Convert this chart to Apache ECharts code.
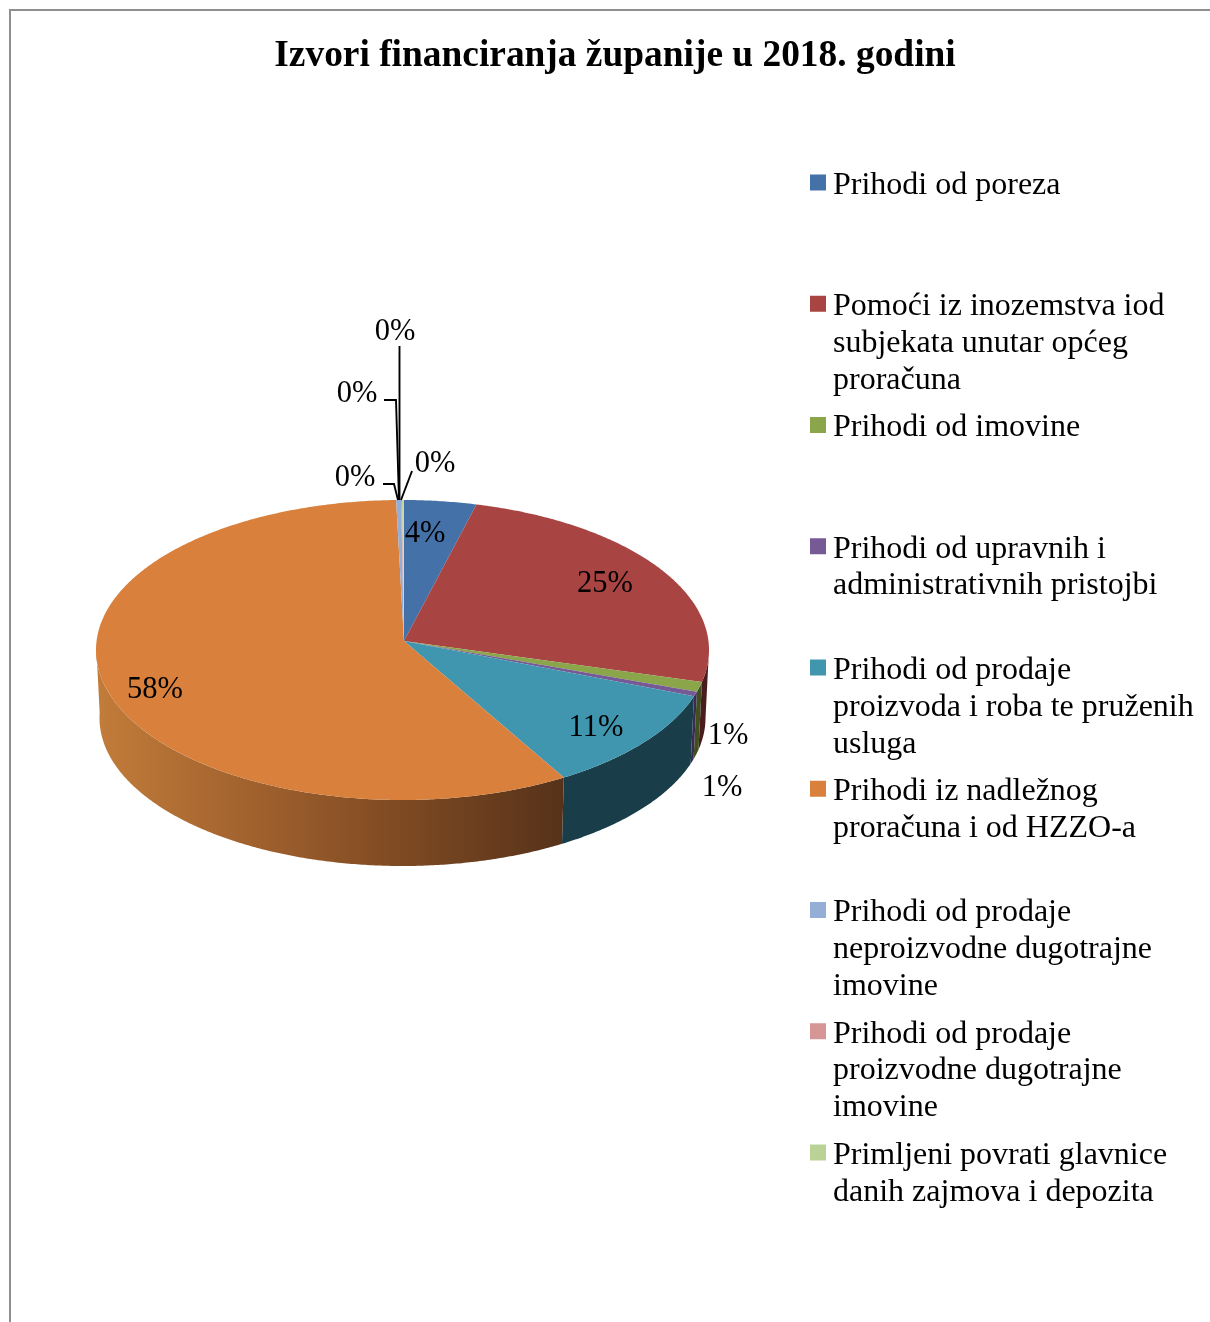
<!DOCTYPE html>
<html>
<head>
<meta charset="utf-8">
<style>html,body{margin:0;padding:0;background:#fff}#c{width:1210px;height:1322px}</style>
<script src="https://cdn.jsdelivr.net/npm/echarts@6/dist/echarts.min.js"></script>
</head>
<body>
<div id="c"></div>
<script>
const chartTitle = 'Izvori financiranja županije u 2018. godini';
const categories = [
  'Prihodi od poreza',
  'Pomoći iz inozemstva iod\nsubjekata unutar općeg\nproračuna',
  'Prihodi od imovine',
  'Prihodi od upravnih i\nadministrativnih pristojbi',
  'Prihodi od prodaje\nproizvoda i roba te pruženih\nusluga',
  'Prihodi iz nadležnog\nproračuna i od HZZO-a',
  'Prihodi od prodaje\nneproizvodne dugotrajne\nimovine',
  'Prihodi od prodaje\nproizvodne dugotrajne\nimovine',
  'Primljeni povrati glavnice\ndanih zajmova i depozita',
  ''
];
const values = [3.8, 24.55, 1.05, 0.52, 11.18, 58.49, 0.26, 0.05, 0.05, 0.05];
const topColors = ['#4471a7','#a84442','#8aa54a','#755a96','#3f96ae','#d9813c','#94aed6','#d69695','#bbd297','#a7d5e3'];
const wallColors = ['#284265','#4a1c1c','#3f4f22','#3a2c50','#1a3d4a',null,'#59698a','#805a5a','#70805a','#648090'];

const FONT = '"Liberation Serif","Times New Roman",serif';
const LABEL_SIZE = 30.5, LEGEND_SIZE = 32, LINE_H = 36.8;
// Projection of the 3D disc
const APEX = [404, 641];
const TOP = {cx: 402.5, cy: 650, rx: 306.5, ry: 150};
const BOT = {cx: 402.5, cy: 718, rx: 303, ry: 148};
const START_DEG = 0.28;
// Label layout (centres) and leader lines, by slice
const labelAt = [[425,534],[605,584],[728,736],[722,788],[596,728],[155,690],[355,478],[357,394],[395,332],[435,464]];
const leaders = {
  6: [[383,484],[394,484],[398,500]],
  7: [[384,400],[396,400],[399,500]],
  8: [[399.5,346],[399.5,500]],
  9: [[412,471],[401,500]]
};

const total = values.reduce((a, b) => a + b, 0);
function pt(e, deg) {
  const t = deg * Math.PI / 180;
  return [e.cx + e.rx * Math.sin(t), e.cy - e.ry * Math.cos(t)];
}
function sliceRange(i) {
  const before = values.slice(0, i).reduce((a, b) => a + b, 0);
  return [START_DEG + before / total * 360, START_DEG + (before + values[i]) / total * 360];
}
function arc(e, a, b) {
  const n = Math.max(2, Math.ceil(Math.abs(b - a) * 2));
  const out = [];
  for (let k = 0; k <= n; k++) out.push(pt(e, a + (b - a) * k / n));
  return out;
}
const orangeWall = new echarts.graphic.LinearGradient(96, 0, 564, 0, [
  {offset: 0, color: '#c27c3a'},
  {offset: 0.39, color: '#9b5d2c'},
  {offset: 0.65, color: '#7e4a22'},
  {offset: 1, color: '#56321a'}
], true);

function renderSlice(i) {
  return function () {
    const [a, b] = sliceRange(i);
    const children = [];
    const wa = Math.max(a, 90), wb = Math.min(b, 272);
    if (wb > wa) {
      children.push({
        type: 'polygon',
        shape: {points: arc(TOP, wa, wb).concat(arc(BOT, wa, wb).reverse())},
        style: {fill: wallColors[i] || orangeWall}
      });
    }
    children.push({
      type: 'polygon',
      shape: {points: [APEX].concat(arc(TOP, a, b))},
      style: {fill: topColors[i]}
    });
    if (leaders[i]) {
      children.push({
        type: 'polyline',
        shape: {points: leaders[i]},
        style: {stroke: '#000', lineWidth: 1.9, fill: null}
      });
    }
    children.push({
      type: 'text',
      x: labelAt[i][0], y: labelAt[i][1],
      style: {
        text: Math.round(values[i] / total * 100) + '%',
        font: LABEL_SIZE + 'px ' + FONT,
        fill: '#000', align: 'center', verticalAlign: 'middle'
      }
    });
    return {type: 'group', children};
  };
}

const series = categories.map((name, i) => ({
  type: 'custom',
  name: name || 'Ostalo',
  coordinateSystem: 'none',
  silent: true,
  animation: false,
  itemStyle: {color: topColors[i]},
  data: [values[i]],
  renderItem: renderSlice(i)
}));

// One legend block per entry, on a fixed pitch; the marker sits on the first text line.
const legends = categories.filter(n => n).map((name, i) => {
  const lines = name.split('\n').length;
  const firstLineY = 183 + i * 121.25;
  return {
    left: 810,
    top: firstLineY - (2 * lines - 1) * LINE_H / 2 + 2.5,
    orient: 'vertical',
    padding: 0,
    selectedMode: false,
    data: [{name, icon: 'path://M0 0H16V16H0Z M18 22L18 22'}],
    itemWidth: 18,
    itemHeight: 22,
    formatter: n => '\n'.repeat(lines - 1) + n,
    textStyle: {fontFamily: FONT, fontSize: LEGEND_SIZE, lineHeight: LINE_H, color: '#000'}
  };
});

const chart = echarts.init(document.getElementById('c'), null, {renderer: 'canvas'});
chart.setOption({
  backgroundColor: '#fff',
  animation: false,
  title: {
    text: chartTitle,
    left: 610, top: 33, textAlign: 'center',
    textStyle: {fontFamily: FONT, fontWeight: 'bold', fontSize: 37.4, color: '#000'}
  },
  legend: legends,
  graphic: [
    {type: 'polyline', silent: true, shape: {points: [[10, 1322], [10, 10], [1210, 10]]},
     style: {stroke: '#8f8f8f', lineWidth: 2, fill: null}}
  ],
  series
});
</script>
</body>
</html>
